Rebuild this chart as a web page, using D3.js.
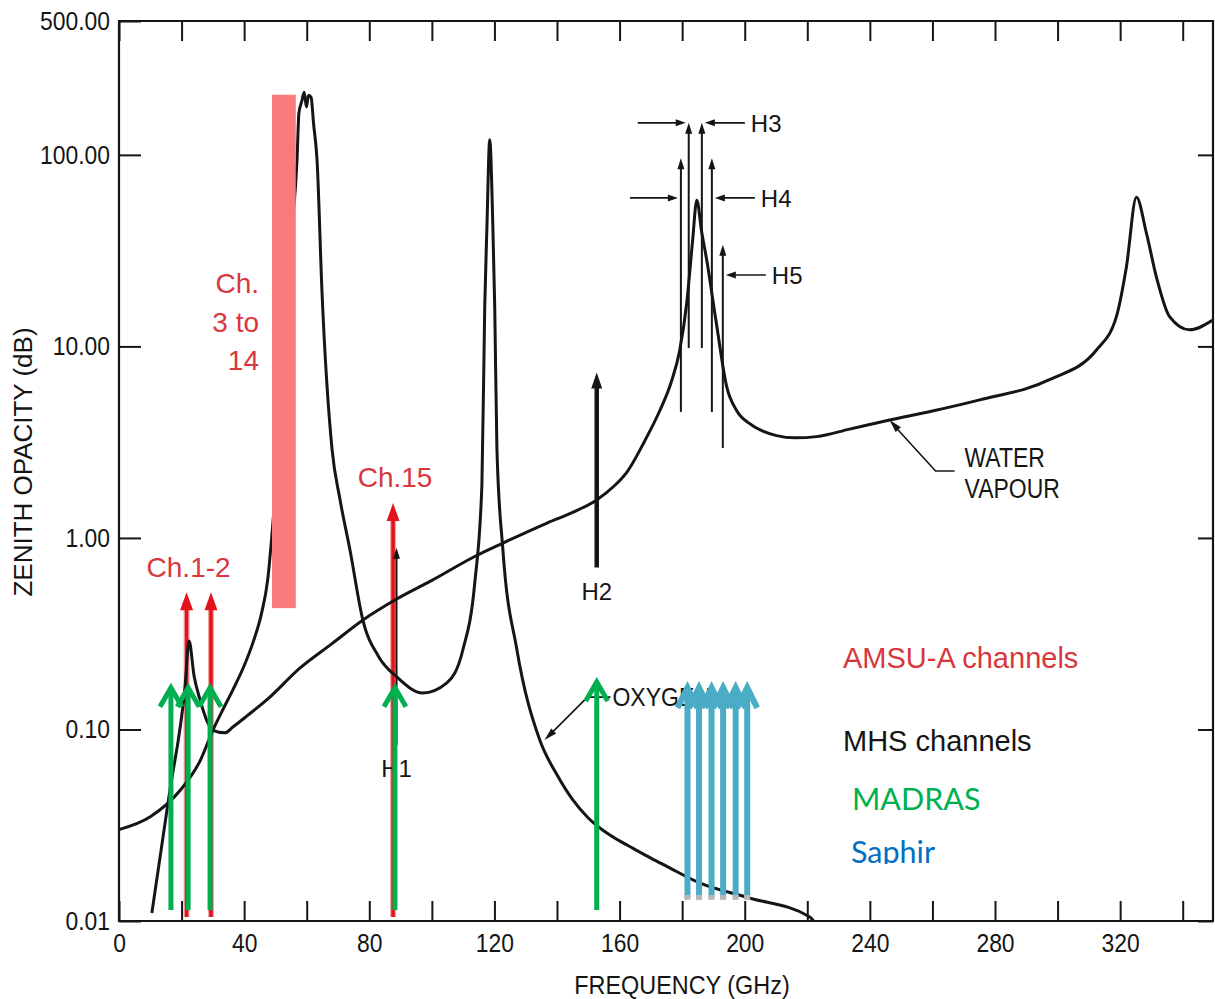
<!DOCTYPE html>
<html>
<head>
<meta charset="utf-8">
<script src="https://cdn.jsdelivr.net/npm/d3@7"></script>
<style>
    body { margin: 0; background: #fff; }
    svg { display: block; }
</style>
</head>
<body>
<div id="chart"></div>
<script>
// values (GHz, dB)
var oxygenFreq = [0, 10, 19.5, 26, 30, 33, 36.4, 40, 43, 45.5, 47.5, 49.2, 51, 53, 55, 56.9, 57.5, 58.4, 59.2, 59.9, 60.6, 61.4, 62.2, 63.3, 64.9, 68.1, 70.6, 73.8, 78, 83, 88.8, 97.1, 104.8, 109.9, 113.7, 116, 116.9, 117.6, 118.5, 119.5, 120.1, 120.8, 122.7, 127.2, 134.5, 140, 145, 150, 155, 160, 164.2, 170, 175.1, 185.6, 200.6, 220.8, 222];
var oxygenOpacity = [0.030, 0.035, 0.048, 0.069, 0.099, 0.125, 0.161, 0.215, 0.29, 0.40, 0.60, 1.2, 3.0, 9, 35, 94, 165, 190, 212, 178, 205, 200, 145, 94, 19, 2.9, 1.6, 0.87, 0.37, 0.24, 0.188, 0.155, 0.175, 0.26, 0.58, 1.9, 16, 42, 120, 42, 16, 2.9, 0.87, 0.26, 0.088, 0.058, 0.043, 0.0345, 0.0295, 0.0262, 0.0240, 0.0213, 0.0193, 0.0158, 0.0133, 0.0105, 0.0100];

var vapourFreq = [10.5, 16, 21.1, 22.4, 24, 25.9, 28, 30, 33.9, 36.4, 41, 47.3, 57.8, 68, 78, 88.2, 100, 113.7, 122.7, 137, 145, 152.7, 158, 162.3, 168, 172.8, 176.5, 179.2, 181.5, 183.3, 184.7, 186.2, 187.9, 191, 194.2, 197.5, 201.6, 206, 210.2, 216, 223, 233.5, 246.3, 260, 275.1, 297.4, 312.5, 318.8, 322, 325.2, 328.4, 331.6, 335.8, 342.2, 349.5];
var vapourOpacity = [0.011, 0.045, 0.167, 0.29, 0.19, 0.143, 0.112, 0.099, 0.096, 0.103, 0.118, 0.143, 0.209, 0.28, 0.373, 0.474, 0.6, 0.80, 0.94, 1.2, 1.36, 1.58, 1.85, 2.2, 3.2, 4.6, 6.5, 9.5, 17, 35, 58, 40, 28, 13, 6.2, 4.6, 3.95, 3.6, 3.42, 3.33, 3.38, 3.7, 4.13, 4.6, 5.26, 6.7, 9.6, 14.3, 26, 60, 39, 23, 14.3, 12.2, 13.7];

var xTicks = [0, 20, 40, 60, 80, 100, 120, 140, 160, 180, 200, 220, 240, 260, 280, 300, 320, 340];
var xLabels = [0, 40, 80, 120, 160, 200, 240, 280, 320];
var yTicks = [0.01, 0.1, 1, 10, 100, 500];
var yLabels = ["0.01", "0.10", "1.00", "10.00", "100.00", "500.00"];

// AMSU-A
var amsuFreq = [21.6, 29.4, 87.6];
var amsuTop = [0.52, 0.52, 1.52];
var amsuBottom = 0.0105;
var amsuBandFreq = [48.9, 56.5];      // Ch. 3 to 14
var amsuBandOpacity = [0.43, 206];

// MHS
var mhsLabels = ["H1", "H2"];
var mhsFreq = [88.7, 152.7];
var mhsTop = [0.89, 7.3];
var mhsBottom = [0.083, 0.70];
var mhsPairLabels = ["H3", "H4", "H5"];
var mhsPairFreq = [[182.1, 186.3], [179.6, 189.5], [193.0]];
var mhsPairTop = [147, 96, 33.9];
var mhsPairBottom = [9.8, 4.55, 2.95];
var mhsPairPointer = [147, 59.6, 23.6];

// MADRAS and Saphir
var madrasFreq = [16.6, 22.1, 29.1, 88.2, 152.7];
var madrasTop = [0.165, 0.165, 0.165, 0.165, 0.177];
var madrasBottom = 0.0114;
var saphirFreq = [181.7, 185.4, 189.4, 193.1, 197.1, 200.8];
var saphirTop = 0.165;
var saphirBottom = 0.0132;

// leader arrows to the two curves
var vapourPointer = [246.3, 4.13];
var oxygenPointer = [136, 0.088];

var ink = "#151515";
var red = "#e3121c";
var redText = "#d8373e";
var green = "#00b050";
var aqua = "#4bacc6";
var font = "'Liberation Sans', Arial, sans-serif";

function condense(sel, k) {
    sel.each(function () {
        var len = this.getComputedTextLength();
        d3.select(this).attr("textLength", len * k).attr("lengthAdjust", "spacingAndGlyphs");
    });
}

function Chart() {
    var self = this;
    this.width = 1215;
    this.height = 999;
    this.svg = d3.select("#chart").append("svg").attr("width", this.width).attr("height", this.height);
    this.x = d3.scaleLinear().domain([0, 350]).range([119, 1214]);
    this.y = d3.scaleLog().domain([0.01, 500]).range([921, 21]);
    var x = this.x, y = this.y;

    this.text = function (g, str, px, py, size, color, anchor) {
        return g.append("text")
            .attr("x", px).attr("y", py)
            .attr("font-family", font)
            .attr("font-size", size)
            .attr("fill", color)
            .attr("text-anchor", anchor || "start")
            .text(str);
    };

    this.drawAxes = function () {
        var g = self.svg.append("g");
        var left = x(0), right = 1213, top = y(500), bottom = y(0.01);

        g.append("g").attr("transform", "translate(0," + bottom + ")")
            .call(d3.axisBottom(x).tickValues(xTicks).tickSize(-20).tickSizeOuter(0).tickPadding(13)
                .tickFormat(function (d) { return xLabels.indexOf(d) >= 0 ? d : ""; }));
        g.append("g").attr("transform", "translate(0," + top + ")")
            .call(d3.axisTop(x).tickValues(xTicks).tickSize(-20).tickSizeOuter(0).tickFormat(""));
        g.append("g").attr("transform", "translate(" + left + ",0)")
            .call(d3.axisLeft(y).tickValues(yTicks).tickSize(-22).tickSizeOuter(0).tickPadding(9)
                .tickFormat(function (d, i) { return yLabels[i]; }));
        g.append("g").attr("transform", "translate(" + right + ",0)")
            .call(d3.axisRight(y).tickValues(yTicks.slice(0, 5)).tickSize(-15).tickSizeOuter(0).tickFormat(""));

        g.selectAll(".domain").remove();
        g.selectAll(".tick line").attr("stroke", ink).attr("stroke-width", 2);
        g.selectAll(".tick text").attr("fill", ink).attr("font-family", font).attr("font-size", 26);
        condense(g.selectAll(".tick text"), 0.88);

        g.append("path")
            .attr("d", "M" + left + "," + top + "H" + right + "V" + bottom + "H" + left + "Z")
            .attr("fill", "none").attr("stroke", ink).attr("stroke-width", 2.2);

        condense(self.text(g, "FREQUENCY (GHz)", 682, 994, 26, ink, "middle"), 0.9);
        self.text(g, "ZENITH OPACITY (dB)", 0, 0, 26, ink, "middle")
            .attr("transform", "translate(32,462) rotate(-90)");
    };

    this.drawCurves = function () {
        var line = d3.line()
            .x(function (d) { return x(d[0]); })
            .y(function (d) { return y(d[1]); })
            .curve(d3.curveMonotoneX);
        self.svg.append("path").datum(d3.zip(oxygenFreq, oxygenOpacity))
            .attr("d", line).attr("fill", "none").attr("stroke", ink).attr("stroke-width", 3);
        self.svg.append("path").datum(d3.zip(vapourFreq, vapourOpacity))
            .attr("d", line).attr("fill", "none").attr("stroke", ink).attr("stroke-width", 3);
    };

    function head(px, py, hw, len) {
        return "M" + px + "," + py + "L" + (px - hw) + "," + (py + len) + "L" + (px + hw) + "," + (py + len) + "Z";
    }
    function sideHead(px, py, dir, len, hw) {
        return "M" + px + "," + py + "L" + (px - dir * len) + "," + (py - hw) + "L" + (px - dir * len) + "," + (py + hw) + "Z";
    }

    this.drawAmsuArrows = function () {
        var g = self.svg.append("g");
        amsuFreq.forEach(function (f, i) {
            var px = x(f);
            g.append("line").attr("x1", px).attr("x2", px).attr("y1", y(amsuBottom)).attr("y2", y(amsuTop[i]) + 10)
                .attr("stroke", "#f5a3a3").attr("stroke-width", 6);
            g.append("line").attr("x1", px).attr("x2", px).attr("y1", y(amsuBottom)).attr("y2", y(amsuTop[i]) + 10)
                .attr("stroke", red).attr("stroke-width", 3.5);
            g.append("path").attr("d", head(px, y(amsuTop[i]), 6.5, 18)).attr("fill", red);
        });
    };

    this.drawAmsuBand = function () {
        self.svg.append("rect")
            .attr("x", x(amsuBandFreq[0]))
            .attr("y", y(amsuBandOpacity[1]))
            .attr("width", x(amsuBandFreq[1]) - x(amsuBandFreq[0]))
            .attr("height", y(amsuBandOpacity[0]) - y(amsuBandOpacity[1]))
            .attr("fill", "#f87a7a");

        var g = self.svg.append("g");
        var bx = x(amsuBandFreq[0]) - 13;
        self.text(g, "Ch.", bx, 293, 28, redText, "end");
        self.text(g, "3 to", bx, 332, 28, redText, "end");
        self.text(g, "14", bx, 370, 28, redText, "end");
        self.text(g, "Ch.1-2", x(amsuFreq[0]) - 40, y(amsuTop[0]) - 15, 28, redText);
        self.text(g, "Ch.15", x(amsuFreq[2]) + 2, y(amsuTop[2]) - 16, 28, redText, "middle");
    };

    this.drawMhs = function () {
        var g = self.svg.append("g");
        mhsFreq.forEach(function (f, i) {
            var px = x(f), thick = mhsLabels[i] === "H2";
            g.append("line").attr("x1", px).attr("x2", px)
                .attr("y1", y(mhsBottom[i])).attr("y2", y(mhsTop[i]) + 8)
                .attr("stroke", ink).attr("stroke-width", thick ? 4.5 : 2);
            g.append("path").attr("d", head(px, y(mhsTop[i]), thick ? 5.5 : 3.5, thick ? 16 : 11)).attr("fill", ink);
            self.text(g, mhsLabels[i], px, y(mhsBottom[i]) + 32, 24, ink, "middle");
        });

        mhsPairLabels.forEach(function (label, i) {
            var fs = mhsPairFreq[i];
            fs.forEach(function (f) {
                var px = x(f);
                g.append("line").attr("x1", px).attr("x2", px)
                    .attr("y1", y(mhsPairBottom[i])).attr("y2", y(mhsPairTop[i]) + 8)
                    .attr("stroke", ink).attr("stroke-width", 2);
                g.append("path").attr("d", head(px, y(mhsPairTop[i]), 3.5, 11)).attr("fill", ink);
            });
            var py = y(mhsPairPointer[i]);
            var xr = x(fs[fs.length - 1]) + 3;
            if (fs.length > 1) {
                var xl = x(fs[0]) - 3;
                g.append("line").attr("x1", xl - 48).attr("x2", xl - 6).attr("y1", py).attr("y2", py)
                    .attr("stroke", ink).attr("stroke-width", 1.6);
                g.append("path").attr("d", sideHead(xl, py, 1, 10, 3.5)).attr("fill", ink);
            }
            g.append("line").attr("x1", xr + 40).attr("x2", xr + 6).attr("y1", py).attr("y2", py)
                .attr("stroke", ink).attr("stroke-width", 1.6);
            g.append("path").attr("d", sideHead(xr, py, -1, 10, 3.5)).attr("fill", ink);
            self.text(g, label, xr + 46, py + 9, 24, ink);
        });
    };

    this.drawLeaders = function () {
        var g = self.svg.append("g");
        var tx = x(vapourPointer[0]), ty = y(vapourPointer[1]);
        g.append("path").attr("d", "M" + (tx + 4) + "," + (ty + 5) + "L" + (tx + 46) + "," + (ty + 51) + "H" + (tx + 65))
            .attr("fill", "none").attr("stroke", ink).attr("stroke-width", 1.6);
        g.append("path").attr("d", sideHead(0, 0, -1, 13, 3.5))
            .attr("transform", "translate(" + tx + "," + ty + ") rotate(" + (Math.atan2(51, 46) * 180 / Math.PI) + ")")
            .attr("fill", ink);
        condense(self.text(g, "WATER", tx + 75, ty + 47, 27, ink), 0.85);
        condense(self.text(g, "VAPOUR", tx + 75, ty + 78, 27, ink), 0.85);

        var ox = x(oxygenPointer[0]), oy = y(oxygenPointer[1]);
        g.append("path").attr("d", "M" + (ox + 4) + "," + (oy - 4) + "L" + (ox + 43) + "," + (oy - 43) + "H" + (ox + 66))
            .attr("fill", "none").attr("stroke", ink).attr("stroke-width", 1.6);
        g.append("path").attr("d", sideHead(0, 0, -1, 13, 3.5))
            .attr("transform", "translate(" + ox + "," + oy + ") rotate(-45)")
            .attr("fill", ink);
        condense(self.text(g, "OXYGEN", ox + 68, oy - 34, 25, ink), 0.92);
    };

    this.drawLegend = function () {
        var g = self.svg.append("g");
        self.text(g, "AMSU-A channels", 843, 668, 29, redText);
        self.text(g, "MHS channels", 843, 751, 29, ink);
        self.text(g, "MADRAS", 852, 810, 30.5, green).attr("font-family", "Lato, 'Open Sans', sans-serif");
        self.svg.append("clipPath").attr("id", "saphir-clip")
            .append("rect").attr("x", 830).attr("y", 820).attr("width", 200).attr("height", 44);
        self.text(g, "Saphir", 851, 863, 30.5, "#0070c0").attr("font-family", "Lato, 'Open Sans', sans-serif")
            .attr("clip-path", "url(#saphir-clip)");
    };

    function openArrow(g, px, top, bottom, color, w, hw, hl) {
        g.append("line").attr("x1", px).attr("x2", px).attr("y1", bottom).attr("y2", top + 2)
            .attr("stroke", color).attr("stroke-width", w);
        g.append("path").attr("d", "M" + (px - hw) + "," + (top + hl) + "L" + px + "," + top + "L" + (px + hw) + "," + (top + hl))
            .attr("fill", "none").attr("stroke", color).attr("stroke-width", w);
    }

    this.drawMadras = function () {
        var g = self.svg.append("g");
        madrasFreq.forEach(function (f, i) {
            openArrow(g, x(f), y(madrasTop[i]), y(madrasBottom), green, 5, 11, 19);
        });
    };

    this.drawSaphir = function () {
        var g = self.svg.append("g");
        saphirFreq.forEach(function (f) {
            openArrow(g, x(f), y(saphirTop), y(saphirBottom), aqua, 6, 10, 20);
            g.append("line").attr("x1", x(f)).attr("x2", x(f))
                .attr("y1", y(saphirBottom) - 3).attr("y2", y(saphirBottom) + 2)
                .attr("stroke", "#b8b8b8").attr("stroke-width", 6);
        });
    };

    this.drawAxes();
    this.drawAmsuArrows();
    this.drawCurves();
    this.drawAmsuBand();
    this.drawMhs();
    this.drawLeaders();
    this.drawLegend();
    this.drawMadras();
    this.drawSaphir();
}

document.addEventListener("DOMContentLoaded", function () {
    new Chart();
});
</script>
</body>
</html>
